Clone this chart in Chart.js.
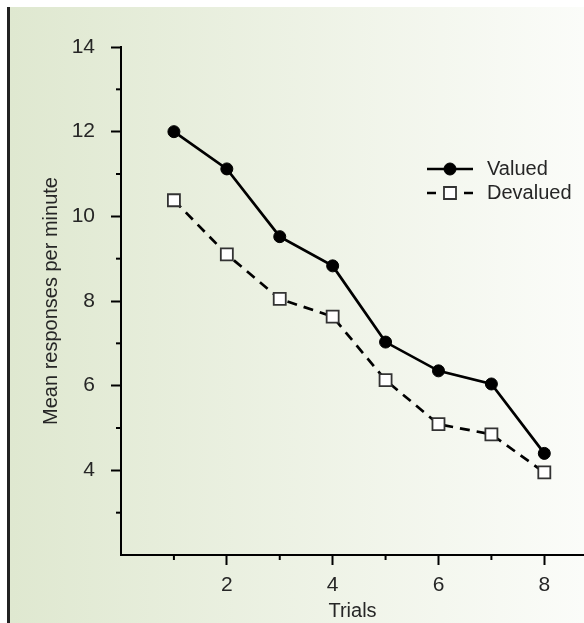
<!DOCTYPE html>
<html>
<head>
<meta charset="utf-8">
<script src="https://cdn.jsdelivr.net/npm/chart.js@4.4.0/dist/chart.umd.min.js"></script>
<style>
  html, body { margin: 0; padding: 0; background: #ffffff; }
  #wrap { width: 584px; height: 623px; position: relative; }
</style>
</head>
<body>
<div id="wrap"><canvas id="c" width="584" height="623"></canvas></div>
<script>
// ---- data ----
const trials = [1, 2, 3, 4, 5, 6, 7, 8];
const valued = [12.0, 11.12, 9.52, 8.83, 7.03, 6.35, 6.04, 4.4];
const devalued = [10.38, 9.1, 8.05, 7.63, 6.13, 5.09, 4.85, 3.95];
const seriesNames = ['Valued', 'Devalued'];
const yTickValues = [3, 4, 5, 6, 7, 8, 9, 10, 11, 12, 13, 14];
const xTickValues = [1, 2, 3, 4, 5, 6, 7, 8];
const yTitle = 'Mean responses per minute';
const xTitle = 'Trials';

const FONT = 'Liberation Sans, Arial, sans-serif';
const TXT = '#262626';

const toPts = arr => trials.map((t, i) => ({ x: t, y: arr[i] }));

const bgPlugin = {
  id: 'bg',
  beforeDraw(chart) {
    const ctx = chart.ctx;
    const W = chart.width, H = chart.height;
    ctx.save();
    ctx.fillStyle = '#ffffff';
    ctx.fillRect(0, 0, W, H);
    const g = ctx.createLinearGradient(10, 0, W, 0);
    g.addColorStop(0, '#dfe8d0');
    g.addColorStop(1, '#fbfcf9');
    ctx.fillStyle = g;
    ctx.fillRect(10, 7, W - 10, H - 7);
    ctx.fillStyle = '#222222';
    ctx.fillRect(7, 7, 3, H - 7);
    ctx.restore();
  }
};

const minorTicks = {
  id: 'minorTicks',
  afterDraw(chart) {
    const ctx = chart.ctx;
    const xs = chart.scales.x, ys = chart.scales.y;
    ctx.save();
    ctx.strokeStyle = '#000';
    ctx.lineWidth = 2;
    ys.ticks.forEach(t => {
      if (t.value % 2 === 1) {
        const p = ys.getPixelForValue(t.value);
        ctx.beginPath();
        ctx.moveTo(ys.right - 5, p);
        ctx.lineTo(ys.right, p);
        ctx.stroke();
      }
    });
    xs.ticks.forEach(t => {
      if (t.value % 2 === 1) {
        const p = xs.getPixelForValue(t.value);
        ctx.beginPath();
        ctx.moveTo(p, xs.top);
        ctx.lineTo(p, xs.top + 5);
        ctx.stroke();
      }
    });
    ctx.restore();
  }
};

const legendPlugin = {
  id: 'customLegend',
  afterDraw(chart) {
    const ctx = chart.ctx;
    const x0 = 427, x1 = 473, xm = 450, tx = 487;
    const rows = [169, 193];
    ctx.save();
    chart.data.datasets.forEach((ds, i) => {
      const y = rows[i];
      ctx.strokeStyle = ds.borderColor;
      ctx.lineWidth = ds.borderWidth;
      ctx.beginPath();
      if (ds.borderDash && ds.borderDash.length) {
        ctx.moveTo(x0, y); ctx.lineTo(x0 + 9, y);
        ctx.moveTo(x1 - 9, y); ctx.lineTo(x1, y);
      } else {
        ctx.moveTo(x0, y); ctx.lineTo(x1, y);
      }
      ctx.stroke();
      ctx.fillStyle = ds.pointBackgroundColor;
      ctx.strokeStyle = ds.pointBorderColor;
      ctx.lineWidth = ds.pointBorderWidth;
      Chart.helpers.drawPoint(ctx, {
        pointStyle: ds.pointStyle,
        radius: ds.pointRadius,
        rotation: 0,
        borderWidth: ds.pointBorderWidth
      }, xm, y);
      ctx.fillStyle = TXT;
      ctx.font = '20px ' + FONT;
      ctx.textBaseline = 'middle';
      ctx.textAlign = 'left';
      ctx.fillText(ds.label, tx, y);
    });
    ctx.restore();
  }
};

new Chart(document.getElementById('c'), {
  type: 'line',
  data: {
    datasets: [
      {
        label: seriesNames[0],
        data: toPts(valued),
        borderColor: '#000',
        borderWidth: 2.7,
        pointStyle: 'circle',
        pointRadius: 6,
        pointBackgroundColor: '#000',
        pointBorderColor: '#000',
        pointBorderWidth: 1,
        tension: 0
      },
      {
        label: seriesNames[1],
        data: toPts(devalued),
        borderColor: '#000',
        borderWidth: 2.7,
        borderDash: [10, 7],
        pointStyle: 'rect',
        pointRadius: 8.5,
        pointBackgroundColor: '#ffffff',
        pointBorderColor: '#333',
        pointBorderWidth: 1.8,
        tension: 0
      }
    ]
  },
  options: {
    responsive: false,
    animation: false,
    devicePixelRatio: 1,
    layout: { autoPadding: false, padding: { left: 0, right: 0, top: 47, bottom: 0 } },
    plugins: {
      legend: { display: false },
      tooltip: { enabled: false }
    },
    scales: {
      x: {
        type: 'linear',
        min: 0,
        max: 8.75,
        afterFit(s) { s.height = 68; s.paddingLeft = 0; s.paddingRight = 0; },
        afterBuildTicks(s) { s.ticks = xTickValues.map(v => ({ value: v })); },
        ticks: {
          autoSkip: false,
          color: TXT,
          font: { family: FONT, size: 21 },
          padding: 8,
          maxRotation: 0,
          callback: v => (v % 2 === 0 ? String(v) : '')
        },
        grid: {
          drawOnChartArea: false,
          drawTicks: true,
          tickLength: 10,
          tickWidth: 2,
          tickColor: c => (c.tick && c.tick.value % 2 === 0 ? '#000' : 'rgba(0,0,0,0)')
        },
        border: { color: '#000', width: 2 },
        title: {
          display: true,
          text: xTitle,
          color: TXT,
          font: { family: FONT, size: 20 },
          padding: 0
        }
      },
      y: {
        type: 'linear',
        min: 2,
        max: 14,
        afterFit(s) { s.width = 121; s.paddingTop = 0; s.paddingBottom = 0; },
        afterBuildTicks(s) { s.ticks = yTickValues.map(v => ({ value: v })); },
        ticks: {
          autoSkip: false,
          color: TXT,
          font: { family: FONT, size: 21 },
          padding: 16,
          callback: v => (v % 2 === 0 ? String(v) : '')
        },
        grid: {
          drawOnChartArea: false,
          drawTicks: true,
          tickLength: 10,
          tickWidth: 2,
          tickColor: c => (c.tick && c.tick.value % 2 === 0 ? '#000' : 'rgba(0,0,0,0)')
        },
        border: { color: '#000', width: 2 },
        title: {
          display: true,
          text: yTitle,
          color: TXT,
          font: { family: FONT, size: 20 },
          padding: { top: 39, bottom: 0 }
        }
      }
    }
  },
  plugins: [bgPlugin, minorTicks, legendPlugin]
});
</script>
</body>
</html>
